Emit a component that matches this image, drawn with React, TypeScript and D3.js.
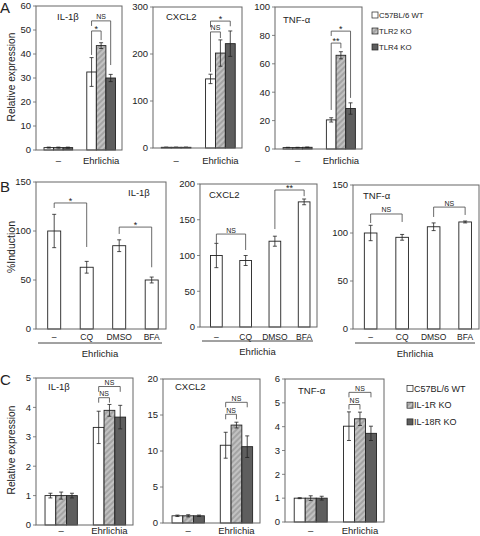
import React from "react";
import * as d3 from "d3";

const FONT = "'Liberation Sans', Arial, Helvetica, sans-serif";

// ---------- data ----------
const groupCats = ["–", "Ehrlichia"];
const treatCats = ["–", "CQ", "DMSO", "BFA"];
const legendA = ["C57BL/6 WT", "TLR2 KO", "TLR4 KO"];
const legendC = ["C57BL/6 WT", "IL-1R KO", "IL-18R KO"];

// Panel A: [group][series]
const aIL1bMean = [[1.0, 1.0, 1.0], [32.5, 43.5, 30.0]];
const aIL1bErr = [[0.2, 0.2, 0.2], [6.0, 1.2, 1.5]];
const aCXCL2Mean = [[1.5, 1.5, 1.5], [147, 202, 222]];
const aCXCL2Err = [[0.3, 0.3, 0.3], [10, 28, 27]];
const aTNFMean = [[1.0, 1.0, 1.2], [20.5, 66, 28.5]];
const aTNFErr = [[0.2, 0.2, 0.2], [1.5, 2.5, 4.0]];

// Panel B: [category][single series]
const bIL1bMean = [[100], [63], [85], [50]];
const bIL1bErr = [[17], [6], [6], [3]];
const bCXCL2Mean = [[100], [93], [120], [175]];
const bCXCL2Err = [[17], [7], [7], [4]];
const bTNFMean = [[100], [95.5], [106.5], [111.5]];
const bTNFErr = [[8], [3], [4], [1]];

// Panel C: [group][series]
const cIL1bMean = [[1.0, 1.0, 1.0], [3.32, 3.9, 3.67]];
const cIL1bErr = [[0.08, 0.12, 0.08], [0.55, 0.2, 0.4]];
const cCXCL2Mean = [[1.0, 1.0, 1.0], [10.8, 13.6, 10.6]];
const cCXCL2Err = [[0.1, 0.15, 0.1], [1.8, 0.4, 1.5]];
const cTNFMean = [[1.0, 1.0, 1.0], [4.02, 4.33, 3.72]];
const cTNFErr = [[0.02, 0.1, 0.08], [0.6, 0.28, 0.3]];

type Bracket = { a: [number, number]; b: [number, number]; level: number; aTo: number; bTo: number; label: string };

const aIL1bBr: Bracket[] = [
  { a: [1, 0], b: [1, 1], level: 49.6, aTo: 39.6, bTo: 45.8, label: "*" },
  { a: [1, 0], b: [1, 2], level: 53.8, aTo: 51.7, bTo: 35.4, label: "NS" },
];
const aCXCL2Br: Bracket[] = [
  { a: [1, 0], b: [1, 1], level: 247, aTo: 162, bTo: 234, label: "NS" },
  { a: [1, 0], b: [1, 2], level: 270, aTo: 257, bTo: 259, label: "*" },
];
const aTNFBr: Bracket[] = [
  { a: [1, 0], b: [1, 1], level: 74.6, aTo: 27.5, bTo: 71, label: "**" },
  { a: [1, 0], b: [1, 2], level: 83, aTo: 79.6, bTo: 36, label: "*" },
];
const bIL1bBr: Bracket[] = [
  { a: [0, 0], b: [1, 0], level: 128.6, aTo: 123.5, bTo: 83.7, label: "*" },
  { a: [2, 0], b: [3, 0], level: 104, aTo: 97, bTo: 63, label: "*" },
];
const bCXCL2Br: Bracket[] = [
  { a: [0, 0], b: [1, 0], level: 130, aTo: 117.5, bTo: 107.7, label: "NS" },
  { a: [2, 0], b: [3, 0], level: 191.6, aTo: 137, bTo: 183, label: "**" },
];
const bTNFBr: Bracket[] = [
  { a: [0, 0], b: [1, 0], level: 119.8, aTo: 110.4, bTo: 111.5, label: "NS" },
  { a: [2, 0], b: [3, 0], level: 127, aTo: 116.7, bTo: 118.8, label: "NS" },
];
const cIL1bBr: Bracket[] = [
  { a: [1, 0], b: [1, 2], level: 4.71, aTo: 4.53, bTo: 4.53, label: "NS" },
  { a: [1, 0], b: [1, 1], level: 4.33, aTo: 4.16, bTo: 4.16, label: "NS" },
];
const cCXCL2Br: Bracket[] = [
  { a: [1, 0], b: [1, 2], level: 16.76, aTo: 16.07, bTo: 16.07, label: "NS" },
  { a: [1, 0], b: [1, 1], level: 15.1, aTo: 14.4, bTo: 14.4, label: "NS" },
];
const cTNFBr: Bracket[] = [
  { a: [1, 0], b: [1, 2], level: 5.44, aTo: 5.23, bTo: 5.23, label: "NS" },
  { a: [1, 0], b: [1, 1], level: 4.93, aTo: 4.72, bTo: 4.72, label: "NS" },
];

// ---------- styles ----------
const FILLS3 = ["#ffffff", "url(#hatch)", "#5e5e5e"];
const FILLS1 = ["#ffffff"];
const INK = "#222";
const FRAME = "#666";

type PanelProps = {
  x0: number; y0: number; w: number; h: number;
  yMax: number; yStep: number;
  cats: string[];
  means: number[][]; errs: number[][];
  fills: string[];
  title: string; tx: number; ty: number;
  brackets: Bracket[];
  catDy: number; catSize: number;
  pi: number; po: number; align: number;
  underline?: boolean;
};

function Panel(p: PanelProps) {
  const y = d3.scaleLinear().domain([0, p.yMax]).range([p.y0 + p.h, p.y0]);
  const x = d3
    .scaleBand<number>()
    .domain(d3.range(p.cats.length))
    .range([p.x0, p.x0 + p.w])
    .paddingInner(p.pi)
    .paddingOuter(p.po)
    .align(p.align);
  const nS = p.means[0].length;
  const xs = d3.scaleBand<number>().domain(d3.range(nS)).range([0, x.bandwidth()]);
  const ticks = d3.range(0, p.yMax + 1e-9, p.yStep);
  const cx = (g: number, s: number) => (x(g) as number) + (xs(s) as number) + xs.bandwidth() / 2;
  const cap = 2;
  return (
    <g>
      {ticks.map((t) => (
        <g key={t}>
          <line x1={p.x0 - 3} x2={p.x0} y1={y(t)} y2={y(t)} stroke={FRAME} strokeWidth={0.8} />
          <text x={p.x0 - 5} y={y(t)} dy="0.35em" textAnchor="end" fontSize={9.5} fill={INK}>
            {t}
          </text>
        </g>
      ))}
      {p.means.map((row, g) =>
        row.map((v, s) => {
          const e = p.errs[g][s];
          const c = cx(g, s);
          return (
            <g key={`${g}-${s}`}>
              <rect
                x={(x(g) as number) + (xs(s) as number)}
                y={y(v)}
                width={xs.bandwidth()}
                height={y(0) - y(v)}
                fill={p.fills[s]}
                stroke={INK}
                strokeWidth={0.9}
              />
              <line x1={c} x2={c} y1={y(v - e)} y2={y(v + e)} stroke={INK} strokeWidth={0.8} />
              <line x1={c - cap} x2={c + cap} y1={y(v + e)} y2={y(v + e)} stroke={INK} strokeWidth={0.8} />
              <line x1={c - cap} x2={c + cap} y1={y(v - e)} y2={y(v - e)} stroke={INK} strokeWidth={0.8} />
            </g>
          );
        })
      )}
      <rect x={p.x0} y={p.y0} width={p.w} height={p.h} fill="none" stroke={FRAME} strokeWidth={1} />
      {p.brackets.map((b, i) => {
        const xa = cx(b.a[0], b.a[1]);
        const xb = cx(b.b[0], b.b[1]);
        const yl = y(b.level);
        return (
          <g key={i}>
            <path
              d={`M${xa},${y(b.aTo)}V${yl}H${xb}V${y(b.bTo)}`}
              fill="none"
              stroke="#444"
              strokeWidth={0.8}
            />
            <text
              x={(xa + xb) / 2}
              y={yl - (b.label === "NS" ? 1.5 : -1)}
              textAnchor="middle"
              fontSize={b.label === "NS" ? 7 : 9}
              fill={INK}
            >
              {b.label}
            </text>
          </g>
        );
      })}
      <text x={p.tx} y={p.ty} fontSize={9.5} fill={INK}>
        {p.title}
      </text>
      {p.cats.map((c, g) => (
        <text
          key={c}
          x={(x(g) as number) + x.bandwidth() / 2}
          y={p.y0 + p.h + p.catDy}
          textAnchor="middle"
          fontSize={p.catSize}
          fill={INK}
        >
          {c}
        </text>
      ))}
      {p.underline && (
        <g>
          <line
            x1={p.x0 + 2}
            x2={p.x0 + p.w - 4}
            y1={p.y0 + p.h + 14}
            y2={p.y0 + p.h + 14}
            stroke="#444"
            strokeWidth={1}
          />
          <text
            x={p.x0 + p.w / 2 - 1}
            y={p.y0 + p.h + 28}
            textAnchor="middle"
            fontSize={9.5}
            fill={INK}
          >
            Ehrlichia
          </text>
        </g>
      )}
    </g>
  );
}

function Legend({ x0, y0, dy, labels, size }: { x0: number; y0: number; dy: number; labels: string[]; size: number }) {
  return (
    <g>
      {labels.map((l, i) => (
        <g key={l}>
          <rect x={x0} y={y0 + i * dy - 3} width={6} height={6} fill={FILLS3[i]} stroke={INK} strokeWidth={0.7} />
          <text x={x0 + 7} y={y0 + i * dy} dy="0.35em" fontSize={size} fill={INK}>
            {l}
          </text>
        </g>
      ))}
    </g>
  );
}

const gp = { pi: 0.33, po: 0.17, align: 0.55 };
const tp = { pi: 0.6, po: 0.3, align: 0.6 };

export default function App() {
  return (
    <svg
      width={480}
      height={536}
      style={{ position: "absolute", left: 0, top: 0, background: "#fff" }}
      fontFamily={FONT}
    >
      <defs>
        <pattern id="hatch" patternUnits="userSpaceOnUse" width={4} height={4} patternTransform="rotate(45)">
          <rect width={4} height={4} fill="#a4a4a4" />
          <line x1={1} y1={0} x2={1} y2={4} stroke="#cdcdcd" strokeWidth={1.5} />
        </pattern>
      </defs>
      <rect width={480} height={536} fill="#fff" />

      {/* Panel A */}
      <text x={0} y={13} fontSize={15} fill={INK}>A</text>
      <text transform="translate(15,77) rotate(-90)" textAnchor="middle" fontSize={10.2} fill={INK}>
        Relative expression
      </text>
      <Panel x0={36} y0={6} w={86} h={144} yMax={60} yStep={10} cats={groupCats}
        means={aIL1bMean} errs={aIL1bErr} fills={FILLS3} title="IL-1β" tx={57} ty={19.5}
        brackets={aIL1bBr} catDy={13.5} catSize={9.5} {...gp} />
      <Panel x0={153} y0={7} w={89} h={141} yMax={300} yStep={100} cats={groupCats}
        means={aCXCL2Mean} errs={aCXCL2Err} fills={FILLS3} title="CXCL2" tx={166} ty={19.5}
        brackets={aCXCL2Br} catDy={15.5} catSize={9.5} {...gp} />
      <Panel x0={275} y0={7} w={87} h={142} yMax={100} yStep={20} cats={groupCats}
        means={aTNFMean} errs={aTNFErr} fills={FILLS3} title="TNF-α" tx={283} ty={23}
        brackets={aTNFBr} catDy={14.5} catSize={9.5} {...gp} />
      <Legend x0={372} y0={15} dy={16} labels={legendA} size={7.8} />

      {/* Panel B */}
      <text x={0} y={192} fontSize={15} fill={INK}>B</text>
      <text transform="translate(15,247) rotate(-90)" textAnchor="middle" fontSize={10.5} fill={INK}>
        %Induction
      </text>
      <Panel x0={36} y0={182} w={130} h={147} yMax={150} yStep={50} cats={treatCats}
        means={bIL1bMean} errs={bIL1bErr} fills={FILLS1} title="IL-1β" tx={128} ty={196}
        brackets={bIL1bBr} catDy={10.5} catSize={8.5} underline {...tp} />
      <Panel x0={200} y0={184} w={117} h={143} yMax={200} yStep={50} cats={treatCats}
        means={bCXCL2Mean} errs={bCXCL2Err} fills={FILLS1} title="CXCL2" tx={209} ty={198}
        brackets={bCXCL2Br} catDy={12.5} catSize={8.5} underline {...tp} />
      <Panel x0={353} y0={185} w={126} h={144} yMax={150} yStep={50} cats={treatCats}
        means={bTNFMean} errs={bTNFErr} fills={FILLS1} title="TNF-α" tx={363} ty={199}
        brackets={bTNFBr} catDy={10.5} catSize={8.5} underline {...tp} />

      {/* Panel C */}
      <text x={0} y={385} fontSize={15} fill={INK}>C</text>
      <text transform="translate(15,450) rotate(-90)" textAnchor="middle" fontSize={10.2} fill={INK}>
        Relative expression
      </text>
      <Panel x0={36} y0={378} w={97} h={147} yMax={5} yStep={1} cats={groupCats}
        means={cIL1bMean} errs={cIL1bErr} fills={FILLS3} title="IL-1β" tx={48} ty={390}
        brackets={cIL1bBr} catDy={9} catSize={9.5} {...gp} />
      <Panel x0={163} y0={379} w={97} h={144} yMax={20} yStep={5} cats={groupCats}
        means={cCXCL2Mean} errs={cCXCL2Err} fills={FILLS3} title="CXCL2" tx={175} ty={390}
        brackets={cCXCL2Br} catDy={11} catSize={9.5} {...gp} />
      <Panel x0={285} y0={379} w={99} h={143} yMax={6} yStep={1} cats={groupCats}
        means={cTNFMean} errs={cTNFErr} fills={FILLS3} title="TNF-α" tx={298} ty={394}
        brackets={cTNFBr} catDy={12} catSize={9.5} {...gp} />
      <Legend x0={407} y0={388.5} dy={16.7} labels={legendC} size={9} />
    </svg>
  );
}
